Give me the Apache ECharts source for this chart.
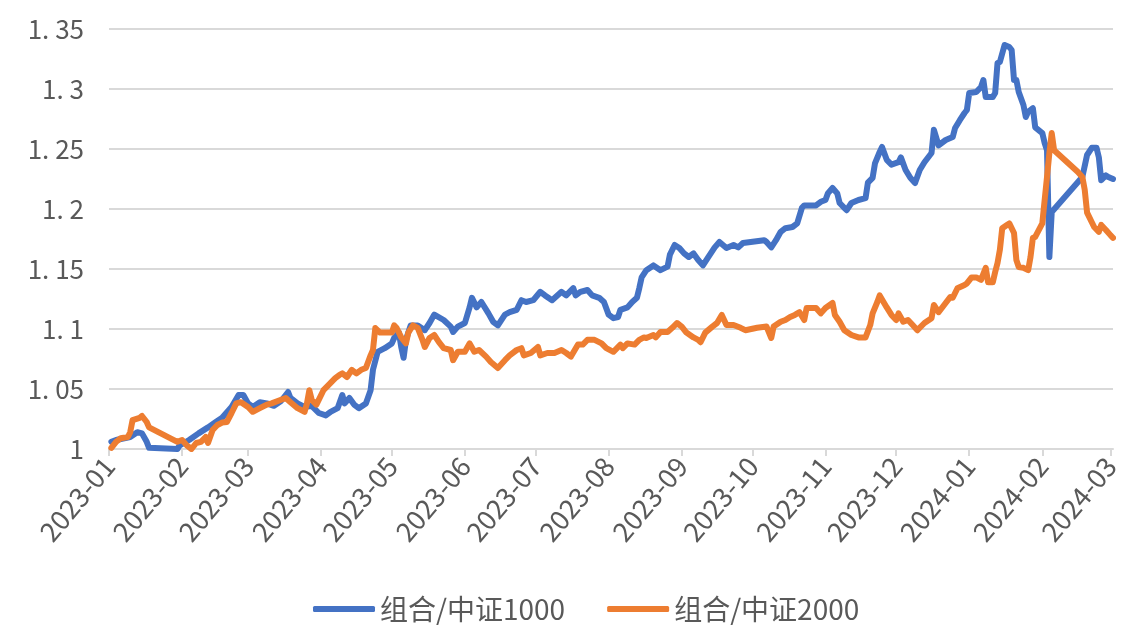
<!DOCTYPE html>
<html>
<head>
<meta charset="utf-8">
<script src="https://cdn.jsdelivr.net/npm/echarts@6/dist/echarts.min.js"></script>
<style>html,body{margin:0;padding:0;background:#fff}#c{width:1131px;height:630px}</style>
</head>
<body>
<div id="c"></div>
<script>
const seriesNames = ['组合/中证1000', '组合/中证2000'];
const monthLabels = ['2023-01','2023-02','2023-03','2023-04','2023-05','2023-06','2023-07','2023-08','2023-09','2023-10','2023-11','2023-12','2024-01','2024-02','2024-03'];
const yTicks = [1, 1.05, 1.1, 1.15, 1.2, 1.25, 1.3, 1.35];

const dates1000 = ['2023-01-02','2023-01-04','2023-01-10','2023-01-13','2023-01-15','2023-01-17','2023-01-18','2023-01-30','2023-01-31','2023-02-04','2023-02-08','2023-02-12','2023-02-15','2023-02-18','2023-02-22','2023-02-25','2023-02-27','2023-03-01','2023-03-03','2023-03-06','2023-03-09','2023-03-12','2023-03-15','2023-03-18','2023-03-19','2023-03-22','2023-03-25','2023-03-28','2023-03-31','2023-04-03','2023-04-05','2023-04-08','2023-04-10','2023-04-11','2023-04-13','2023-04-15','2023-04-17','2023-04-20','2023-04-22','2023-04-23','2023-04-25','2023-04-28','2023-05-01','2023-05-02','2023-05-04','2023-05-05','2023-05-06','2023-05-07','2023-05-09','2023-05-12','2023-05-15','2023-05-17','2023-05-19','2023-05-23','2023-05-26','2023-05-27','2023-05-29','2023-06-01','2023-06-03','2023-06-04','2023-06-06','2023-06-08','2023-06-11','2023-06-13','2023-06-15','2023-06-18','2023-06-20','2023-06-23','2023-06-25','2023-06-27','2023-06-30','2023-07-03','2023-07-05','2023-07-08','2023-07-12','2023-07-14','2023-07-17','2023-07-18','2023-07-20','2023-07-23','2023-07-25','2023-07-28','2023-07-30','2023-08-01','2023-08-03','2023-08-05','2023-08-06','2023-08-09','2023-08-11','2023-08-13','2023-08-14','2023-08-15','2023-08-17','2023-08-20','2023-08-23','2023-08-26','2023-08-27','2023-08-29','2023-08-31','2023-09-02','2023-09-04','2023-09-06','2023-09-08','2023-09-10','2023-09-12','2023-09-15','2023-09-17','2023-09-20','2023-09-23','2023-09-25','2023-09-27','2023-10-06','2023-10-07','2023-10-09','2023-10-11','2023-10-13','2023-10-15','2023-10-18','2023-10-20','2023-10-22','2023-10-23','2023-10-25','2023-10-28','2023-10-30','2023-11-01','2023-11-02','2023-11-04','2023-11-06','2023-11-07','2023-11-09','2023-11-10','2023-11-12','2023-11-15','2023-11-18','2023-11-19','2023-11-21','2023-11-22','2023-11-24','2023-11-25','2023-11-27','2023-11-29','2023-12-02','2023-12-03','2023-12-05','2023-12-07','2023-12-09','2023-12-11','2023-12-13','2023-12-16','2023-12-17','2023-12-19','2023-12-22','2023-12-25','2023-12-26','2023-12-28','2023-12-30','2023-12-31','2024-01-01','2024-01-04','2024-01-06','2024-01-07','2024-01-08','2024-01-11','2024-01-12','2024-01-13','2024-01-14','2024-01-16','2024-01-18','2024-01-19','2024-01-20','2024-01-21','2024-01-22','2024-01-24','2024-01-25','2024-01-26','2024-01-28','2024-01-29','2024-02-01','2024-02-02','2024-02-03','2024-02-04','2024-02-05','2024-02-18','2024-02-20','2024-02-22','2024-02-24','2024-02-25','2024-02-26','2024-02-28','2024-02-29','2024-03-02'];
const vals1000 = [1.006,1.0075,1.010,1.014,1.013,1.006,1.001,1.000,1.003,1.0075,1.013,1.018,1.022,1.026,1.035,1.045,1.045,1.038,1.035,1.039,1.038,1.036,1.040,1.0475,1.0425,1.038,1.035,1.036,1.030,1.028,1.031,1.034,1.045,1.038,1.0425,1.037,1.034,1.038,1.049,1.066,1.081,1.084,1.088,1.0925,1.097,1.085,1.076,1.091,1.103,1.103,1.099,1.105,1.112,1.1075,1.102,1.0975,1.102,1.105,1.118,1.126,1.118,1.1225,1.113,1.106,1.103,1.112,1.114,1.116,1.124,1.1225,1.124,1.131,1.128,1.124,1.131,1.128,1.134,1.128,1.131,1.1325,1.128,1.126,1.1225,1.112,1.109,1.110,1.116,1.118,1.1225,1.126,1.134,1.143,1.149,1.153,1.149,1.152,1.162,1.170,1.1675,1.163,1.160,1.163,1.1575,1.153,1.159,1.168,1.1725,1.1675,1.170,1.168,1.1717,1.174,1.1725,1.168,1.174,1.181,1.184,1.185,1.188,1.201,1.203,1.203,1.203,1.206,1.2075,1.213,1.2175,1.213,1.205,1.201,1.199,1.205,1.2075,1.209,1.222,1.226,1.238,1.2475,1.2517,1.241,1.237,1.239,1.243,1.2325,1.226,1.2217,1.2325,1.239,1.2467,1.266,1.253,1.2575,1.26,1.2675,1.274,1.28,1.2825,1.2967,1.2975,1.3017,1.3075,1.2933,1.2933,1.2967,1.3217,1.3225,1.3367,1.335,1.3325,1.3075,1.3075,1.2975,1.2867,1.2767,1.281,1.284,1.268,1.2633,1.255,1.249,1.16,1.1975,1.2267,1.245,1.251,1.251,1.243,1.224,1.228,1.2267,1.225];

const dates2000 = ['2023-01-02','2023-01-04','2023-01-06','2023-01-09','2023-01-10','2023-01-11','2023-01-14','2023-01-15','2023-01-17','2023-01-18','2023-01-30','2023-02-01','2023-02-03','2023-02-05','2023-02-07','2023-02-09','2023-02-11','2023-02-12','2023-02-14','2023-02-16','2023-02-18','2023-02-20','2023-02-22','2023-02-24','2023-02-26','2023-03-01','2023-03-03','2023-03-06','2023-03-09','2023-03-11','2023-03-15','2023-03-17','2023-03-19','2023-03-22','2023-03-25','2023-03-26','2023-03-27','2023-03-28','2023-03-30','2023-04-02','2023-04-04','2023-04-07','2023-04-09','2023-04-10','2023-04-12','2023-04-14','2023-04-16','2023-04-18','2023-04-20','2023-04-22','2023-04-23','2023-04-24','2023-04-26','2023-04-29','2023-05-01','2023-05-02','2023-05-03','2023-05-05','2023-05-07','2023-05-08','2023-05-10','2023-05-12','2023-05-14','2023-05-15','2023-05-17','2023-05-19','2023-05-21','2023-05-23','2023-05-26','2023-05-27','2023-05-29','2023-06-01','2023-06-03','2023-06-05','2023-06-07','2023-06-10','2023-06-12','2023-06-15','2023-06-18','2023-06-20','2023-06-23','2023-06-25','2023-06-26','2023-06-29','2023-07-02','2023-07-03','2023-07-06','2023-07-09','2023-07-12','2023-07-14','2023-07-16','2023-07-19','2023-07-21','2023-07-23','2023-07-26','2023-07-29','2023-07-31','2023-08-03','2023-08-06','2023-08-07','2023-08-09','2023-08-12','2023-08-14','2023-08-16','2023-08-17','2023-08-20','2023-08-21','2023-08-23','2023-08-26','2023-08-28','2023-08-30','2023-09-01','2023-09-03','2023-09-06','2023-09-08','2023-09-09','2023-09-11','2023-09-14','2023-09-16','2023-09-18','2023-09-20','2023-09-23','2023-09-26','2023-09-28','2023-10-03','2023-10-07','2023-10-09','2023-10-10','2023-10-13','2023-10-15','2023-10-17','2023-10-19','2023-10-21','2023-10-23','2023-10-24','2023-10-28','2023-10-30','2023-11-01','2023-11-04','2023-11-05','2023-11-07','2023-11-09','2023-11-12','2023-11-15','2023-11-18','2023-11-20','2023-11-21','2023-11-23','2023-11-24','2023-11-27','2023-11-29','2023-12-01','2023-12-02','2023-12-04','2023-12-06','2023-12-08','2023-12-10','2023-12-13','2023-12-16','2023-12-17','2023-12-19','2023-12-22','2023-12-24','2023-12-25','2023-12-27','2023-12-30','2023-12-31','2024-01-02','2024-01-04','2024-01-06','2024-01-08','2024-01-09','2024-01-11','2024-01-12','2024-01-13','2024-01-14','2024-01-15','2024-01-17','2024-01-18','2024-01-20','2024-01-21','2024-01-22','2024-01-24','2024-01-26','2024-01-27','2024-01-28','2024-01-29','2024-02-01','2024-02-02','2024-02-03','2024-02-04','2024-02-05','2024-02-06','2024-02-16','2024-02-18','2024-02-19','2024-02-20','2024-02-22','2024-02-23','2024-02-25','2024-02-26','2024-02-28','2024-03-01','2024-03-02'];
const vals2000 = [1.001,1.006,1.009,1.010,1.014,1.024,1.026,1.0275,1.0225,1.018,1.006,1.0075,1.003,1.000,1.005,1.006,1.010,1.005,1.016,1.020,1.022,1.0225,1.030,1.038,1.039,1.035,1.031,1.034,1.037,1.038,1.041,1.0425,1.039,1.034,1.031,1.038,1.049,1.041,1.037,1.049,1.053,1.059,1.062,1.063,1.060,1.066,1.063,1.066,1.0675,1.078,1.0825,1.1008,1.097,1.097,1.097,1.103,1.101,1.093,1.088,1.097,1.103,1.101,1.091,1.085,1.0925,1.095,1.089,1.084,1.0825,1.074,1.081,1.081,1.088,1.081,1.0825,1.077,1.0725,1.0675,1.074,1.078,1.0825,1.084,1.078,1.080,1.085,1.078,1.080,1.080,1.0825,1.080,1.077,1.087,1.087,1.091,1.091,1.088,1.084,1.081,1.087,1.084,1.088,1.087,1.091,1.093,1.0925,1.095,1.093,1.0975,1.0975,1.101,1.105,1.102,1.097,1.093,1.091,1.089,1.097,1.102,1.105,1.1117,1.1033,1.1033,1.101,1.099,1.101,1.102,1.0925,1.102,1.106,1.1075,1.110,1.1117,1.114,1.1075,1.1175,1.1175,1.113,1.1175,1.1217,1.1117,1.106,1.099,1.095,1.093,1.093,1.1033,1.113,1.1225,1.128,1.118,1.1117,1.1075,1.113,1.106,1.1075,1.1033,1.099,1.105,1.109,1.12,1.114,1.1217,1.1267,1.126,1.134,1.1367,1.138,1.143,1.143,1.141,1.151,1.139,1.139,1.1475,1.155,1.166,1.184,1.1867,1.188,1.18,1.1575,1.1517,1.151,1.149,1.16,1.176,1.1767,1.188,1.2075,1.2267,1.2467,1.2633,1.249,1.231,1.2267,1.216,1.197,1.189,1.185,1.181,1.1867,1.1825,1.178,1.176];

const colors = ['#4472C4', '#ED7D31'];
const FONT = '"Noto Sans CJK SC", "Noto Sans", sans-serif';

function parseD(s) { const p = s.split('-').map(Number); return Date.UTC(p[0], p[1] - 1, p[2] || 1); }
const monthTicks = monthLabels.map(m => parseD(m + '-01'));
function zip(ds, vs) { return ds.map((d, i) => [parseD(d), vs[i]]); }

const chart = echarts.init(document.getElementById('c'), null, { renderer: 'canvas' });
chart.setOption({
  animation: false,
  backgroundColor: '#ffffff',
  color: colors,
  textStyle: { fontFamily: FONT },
  grid: { left: 109, right: 18, top: 29, bottom: 181, containLabel: false },
  xAxis: {
    type: 'value',
    min: parseD('2023-01-01'),
    max: parseD('2024-03-02'),
    axisLine: { show: true, lineStyle: { color: '#d9d9d9', width: 2 } },
    axisTick: { show: true, length: 7, lineStyle: { color: '#d9d9d9', width: 2 }, customValues: monthTicks },
    splitLine: { show: false },
    axisLabel: {
      customValues: monthTicks,
      rotate: 50,
      margin: 12,
      color: '#595959',
      fontSize: 27,
      fontFamily: FONT,
      formatter: function (v) {
        let best = 0, bd = Infinity;
        monthTicks.forEach((t, i) => { const d = Math.abs(t - v); if (d < bd) { bd = d; best = i; } });
        return monthLabels[best];
      }
    }
  },
  yAxis: {
    type: 'value',
    min: yTicks[0],
    max: yTicks[yTicks.length - 1],
    interval: 0.05,
    axisLine: { show: false },
    axisTick: { show: false },
    splitLine: { show: true, lineStyle: { color: '#d9d9d9', width: 2 } },
    axisLabel: {
      margin: 25,
      color: '#595959',
      fontSize: 26,
      fontFamily: FONT,
      formatter: function (v) { return String(+v.toFixed(2)).replace('.', '. '); }
    }
  },
  legend: {
    data: seriesNames,
    left: 308,
    top: 590,
    itemWidth: 62,
    itemHeight: 6,
    itemGap: 42,
    icon: 'roundRect',
    textStyle: { color: '#595959', fontSize: 28, fontFamily: FONT }
  },
  series: [
    {
      name: seriesNames[0], type: 'line', data: zip(dates1000, vals1000),
      showSymbol: false, symbol: 'none', smooth: false,
      lineStyle: { width: 6, color: colors[0], cap: 'round', join: 'round' }, z: 2
    },
    {
      name: seriesNames[1], type: 'line', data: zip(dates2000, vals2000),
      showSymbol: false, symbol: 'none', smooth: false,
      lineStyle: { width: 6, color: colors[1], cap: 'round', join: 'round' }, z: 3
    }
  ]
});
</script>
</body>
</html>
